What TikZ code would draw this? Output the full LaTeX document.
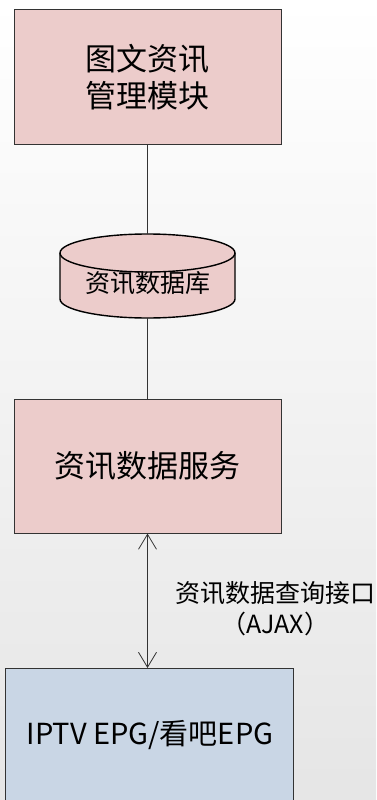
\documentclass[tikz,border=0pt]{standalone}
\usepackage{fontspec}
\setmainfont{Noto Sans CJK SC}
\usetikzlibrary{arrows.meta}
\definecolor{pinkfill}{HTML}{ECCCCB}
\definecolor{bluefill}{HTML}{C9D6E5}
\definecolor{edge}{HTML}{333333}
\tikzset{
  box/.style={draw=edge, line width=1pt, fill=pinkfill, minimum width=267pt, inner sep=0pt},
  conn/.style={draw=edge, line width=0.8pt},
}
\begin{document}
\begin{tikzpicture}[x=1pt,y=-1pt]
\useasboundingbox (0,0) rectangle (376,800);
\clip (0,0) rectangle (376,800);
\shade[top color=white, bottom color=black!10] (0,0) rectangle (376,800);
% top box
\node[box, minimum height=134pt, align=center, font=\fontsize{31}{37}\selectfont] (mgmt) at (147.5,77) {图文资讯\\管理模块};
% database (invisible frame)
\node[minimum width=175pt, minimum height=84pt, inner sep=0pt] (db) at (147.5,276) {};
\path[fill=pinkfill, draw=black, line width=1.4pt]
  (60,253) -- (60,299) arc[start angle=180, end angle=360, x radius=87.5pt, y radius=19pt]
  -- (235,253) arc[start angle=0, end angle=180, x radius=87.5pt, y radius=19pt] -- cycle;
\draw[black, line width=1.4pt] (60,253) arc[start angle=180, end angle=360, x radius=87.5pt, y radius=19pt];
\node[font=\fontsize{25}{30}\selectfont] (dbtext) at (147.5,283) {资讯数据库};
% service box
\node[box, minimum height=134pt, font=\fontsize{31}{37}\selectfont] (svc) at (147.5,466) {资讯数据服务};
% EPG box
\node[box, fill=bluefill, minimum width=288pt, minimum height=160pt, anchor=north west] (epg) at (5,668) {};
\node[font=\fontsize{29}{34}\selectfont] (epgtext) at (150,735) {IPTV EPG/看吧EPG};
% connectors
\draw[conn] (mgmt.south) -- (db.north);
\draw[conn] (db.south) -- (svc.north);
\draw[conn, {Straight Barb[length=15pt,width=18pt]}-{Straight Barb[length=15pt,width=18pt]}] (svc.south) -- (svc.south |- epg.north)
  node[pos=0.5, right=24pt, align=center, font=\fontsize{25}{31}\selectfont, yshift=-8pt] (lbl) {资讯数据查询接口\\（AJAX）};
\end{tikzpicture}
\end{document}
